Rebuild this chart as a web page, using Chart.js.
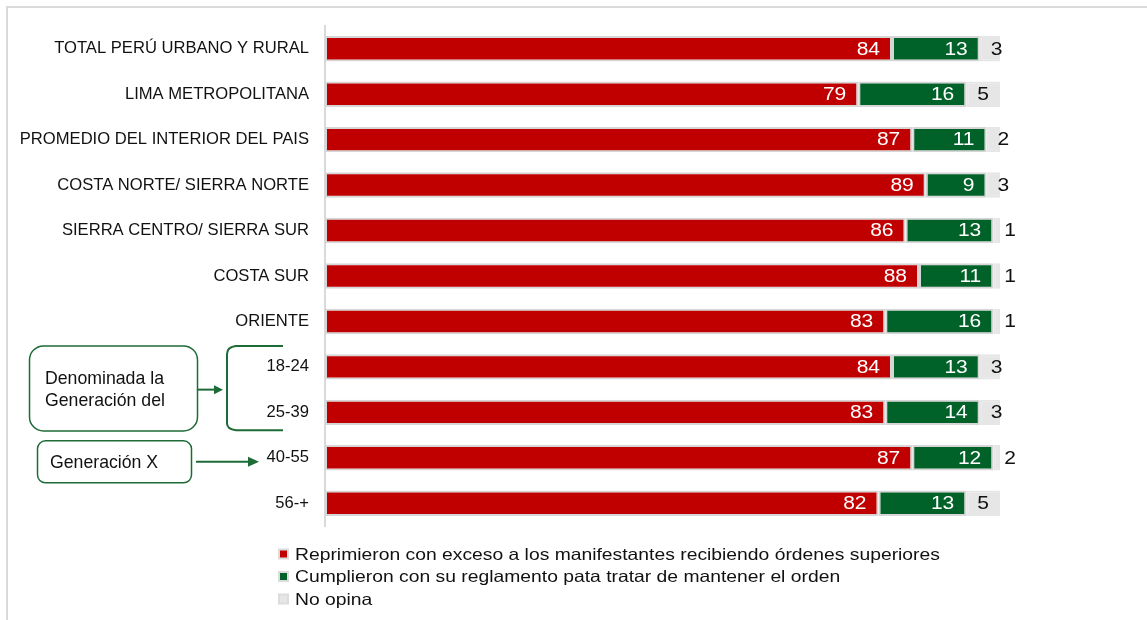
<!DOCTYPE html>
<html lang="es">
<head>
    <meta charset="UTF-8">
    <title>Opinión por región y edad</title>
    <script src="https://cdn.jsdelivr.net/npm/chart.js"></script>
    <style>
        body { margin: 0; background: #fff; }
        #wrap { position: relative; width: 1147px; height: 620px; }
    </style>
</head>
<body>
    <div id="wrap">
        <canvas id="grafico"></canvas>
    </div>

    <script>
        // Datos
        var categorias = [
            'TOTAL PERÚ URBANO Y RURAL',
            'LIMA METROPOLITANA',
            'PROMEDIO DEL INTERIOR DEL PAIS',
            'COSTA NORTE/ SIERRA NORTE',
            'SIERRA CENTRO/ SIERRA SUR',
            'COSTA SUR',
            'ORIENTE',
            '18-24',
            '25-39',
            '40-55',
            '56-+'
        ];
        var reprimieron = [84, 79, 87, 89, 86, 88, 83, 84, 83, 87, 82];
        var cumplieron  = [13, 16, 11,  9, 13, 11, 16, 13, 14, 12, 13];
        var noOpina     = [ 3,  5,  2,  3,  1,  1,  1,  3,  3,  2,  5];
        var nombresSeries = [
            'Reprimieron con exceso a los manifestantes recibiendo órdenes superiores',
            'Cumplieron con su reglamento pata tratar de mantener el orden',
            'No opina'
        ];

        var ROJO = '#c00000';
        var VERDE = '#006228';
        var GRIS = '#e6e6e6';
        var VERDE_NOTA = '#1d6b36';
        var FUENTE = '"Liberation Sans", Arial, sans-serif';

        // texto algo ensanchado, como en el original
        function textoAncho(ctx, txt, x, y, align, sx) {
            ctx.save();
            ctx.translate(x, y);
            ctx.scale(sx, 1);
            ctx.textAlign = align;
            ctx.fillText(txt, 0, 0);
            ctx.restore();
        }

        // etiquetas de valor sobre cada segmento
        var etiquetasValor = {
            id: 'etiquetasValor',
            afterDatasetsDraw: function(chart) {
                var ctx = chart.ctx;
                ctx.save();
                ctx.font = '17.5px ' + FUENTE;
                ctx.textBaseline = 'middle';
                chart.data.datasets.forEach(function(ds, i) {
                    var meta = chart.getDatasetMeta(i);
                    meta.data.forEach(function(bar, j) {
                        var v = String(ds.data[j]);
                        var inicio = Math.min(bar.base, bar.x);
                        var fin = Math.max(bar.base, bar.x);
                        if (i < 2) {
                            ctx.fillStyle = '#fff';
                            textoAncho(ctx, v, fin - 12, bar.y + 1, 'right', 1.2);
                        } else {
                            ctx.fillStyle = '#111';
                            textoAncho(ctx, v, inicio + 11, bar.y + 1, 'left', 1.2);
                        }
                    });
                });
                ctx.restore();
            }
        };

        // marco, leyenda y notas de generaciones
        var extras = {
            id: 'extras',
            afterDraw: function(chart) {
                var ctx = chart.ctx;
                var y = chart.scales.y;
                ctx.save();

                // marco gris
                ctx.strokeStyle = '#dadada';
                ctx.lineWidth = 2;
                ctx.beginPath();
                ctx.moveTo(7, 620);
                ctx.lineTo(7, 7);
                ctx.lineTo(1147, 7);
                ctx.stroke();

                // leyenda vertical
                var colores = [ROJO, VERDE, GRIS];
                ctx.font = '16.5px ' + FUENTE;
                ctx.textBaseline = 'middle';
                for (var k = 0; k < 3; k++) {
                    var ly = 554 + k * 22.5;
                    ctx.fillStyle = '#dcdcdc';
                    ctx.fillRect(278, ly - 5.5, 11, 11);
                    ctx.fillStyle = colores[k];
                    ctx.fillRect(280, ly - 3.5, 7, 7);
                    ctx.fillStyle = '#111';
                    textoAncho(ctx, nombresSeries[k], 295, ly + 1, 'left', 1.17);
                }

                // nota 1: caja, flecha y llave
                var y8 = y.getPixelForValue(7);
                var y9 = y.getPixelForValue(8);
                var y10 = y.getPixelForValue(9);
                var medio = (y8 + y9) / 2;

                ctx.strokeStyle = VERDE_NOTA;
                ctx.fillStyle = VERDE_NOTA;
                ctx.lineWidth = 1.5;
                ctx.beginPath();
                ctx.roundRect(29.5, y8 - 21, 168, 85, 14);
                ctx.stroke();

                ctx.lineWidth = 2;
                ctx.beginPath();
                ctx.moveTo(198, medio);
                ctx.lineTo(215, medio);
                ctx.stroke();
                ctx.beginPath();
                ctx.moveTo(223, medio);
                ctx.lineTo(214, medio - 4.5);
                ctx.lineTo(214, medio + 4.5);
                ctx.closePath();
                ctx.fill();

                ctx.beginPath();
                ctx.moveTo(283, y8 - 21);
                ctx.lineTo(236, y8 - 21);
                ctx.quadraticCurveTo(227, y8 - 20, 227, y8 - 13);
                ctx.lineTo(227, y9 + 11);
                ctx.quadraticCurveTo(227, y9 + 17, 236, y9 + 18);
                ctx.lineTo(283, y9 + 18);
                ctx.stroke();

                // nota 2: caja y flecha
                ctx.lineWidth = 1.5;
                ctx.beginPath();
                ctx.roundRect(37.5, y10 - 17, 154, 42, 8);
                ctx.stroke();

                ctx.lineWidth = 2;
                ctx.beginPath();
                ctx.moveTo(196, y10 + 4);
                ctx.lineTo(249, y10 + 4);
                ctx.stroke();
                ctx.beginPath();
                ctx.moveTo(259, y10 + 4);
                ctx.lineTo(248, y10 - 1);
                ctx.lineTo(248, y10 + 9);
                ctx.closePath();
                ctx.fill();

                ctx.fillStyle = '#111';
                ctx.font = '17.7px ' + FUENTE;
                ctx.textAlign = 'left';
                ctx.fillText('Denominada la', 45, y8 + 12);
                ctx.fillText('Generación del', 45, y8 + 34);
                ctx.fillText('Generación X', 50, y10 + 5);

                ctx.restore();
            }
        };

        var ctx = document.getElementById('grafico').getContext('2d');
        var chart = new Chart(ctx, {
            type: 'bar',
            data: {
                labels: categorias,
                datasets: [
                    { label: nombresSeries[0], data: reprimieron, backgroundColor: ROJO, borderColor: '#d6d6d6' },
                    { label: nombresSeries[1], data: cumplieron, backgroundColor: VERDE, borderColor: '#d6d6d6' },
                    { label: nombresSeries[2], data: noOpina, backgroundColor: GRIS, borderColor: GRIS }
                ]
            },
            options: {
                indexAxis: 'y',
                responsive: true,
                maintainAspectRatio: false,
                animation: false,
                datasets: {
                    bar: {
                        borderWidth: 2,
                        borderSkipped: false,
                        categoryPercentage: 0.56,
                        barPercentage: 1
                    }
                },
                layout: {
                    padding: { top: 24, bottom: 94, right: 147, left: 0 }
                },
                plugins: {
                    legend: { display: false },
                    tooltip: { enabled: false }
                },
                scales: {
                    x: {
                        stacked: true,
                        min: 0,
                        max: 100,
                        display: false
                    },
                    y: {
                        stacked: true,
                        afterFit: function(scale) { scale.width = 325; },
                        grid: { display: false, drawTicks: false },
                        border: { display: true, color: '#d9d9d9', width: 2 },
                        ticks: {
                            color: '#111',
                            padding: 16,
                            font: { family: FUENTE, size: 16.6 }
                        }
                    }
                }
            },
            plugins: [etiquetasValor, extras]
        });
    </script>
</body>
</html>
